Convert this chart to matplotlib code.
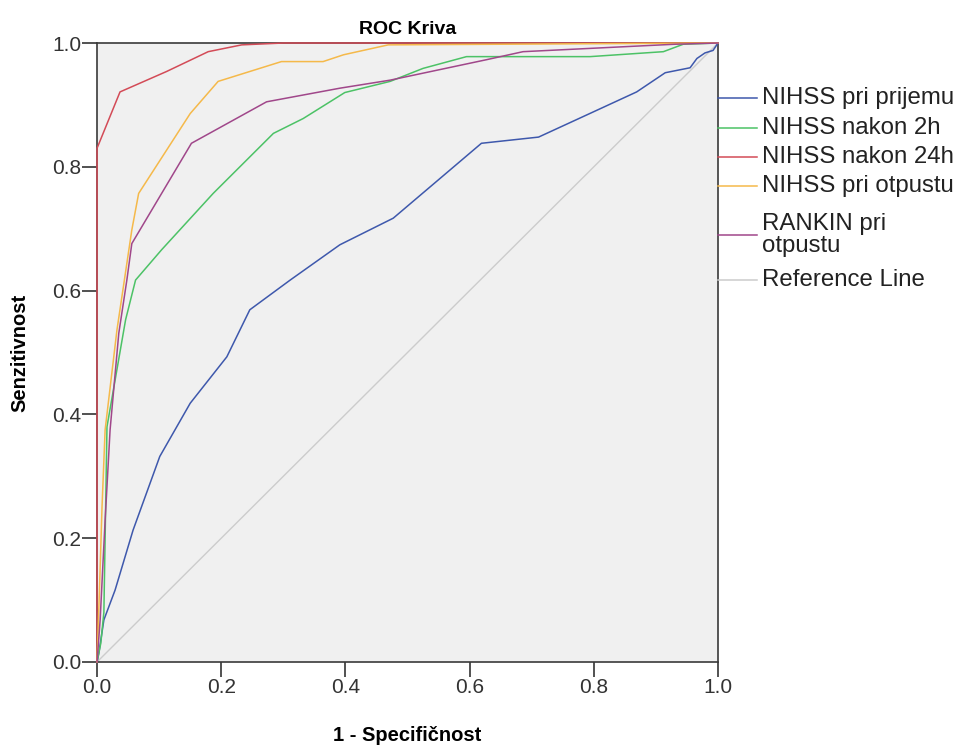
import matplotlib
matplotlib.use("Agg")
import matplotlib.pyplot as plt
from matplotlib.lines import Line2D

plt.rcParams['font.family'] = ['Liberation Sans', 'DejaVu Sans']

# ROC points (1 - specificity, sensitivity) for each predictor
fpr_prijem = [0, 0.003, 0.011, 0.029, 0.058, 0.101, 0.150, 0.209, 0.246, 0.311, 0.391,
              0.477, 0.531, 0.619, 0.711, 0.789, 0.869, 0.915, 0.955, 0.966, 0.979, 0.992, 1.0]
tpr_prijem = [0, 0.015, 0.068, 0.116, 0.213, 0.332, 0.418, 0.493, 0.569, 0.617, 0.674,
              0.717, 0.763, 0.838, 0.848, 0.884, 0.921, 0.952, 0.960, 0.975, 0.984, 0.988, 1.0]

fpr_2h = [0, 0.006, 0.011, 0.016, 0.046, 0.062, 0.104, 0.187, 0.284, 0.332, 0.399,
          0.472, 0.525, 0.595, 0.794, 0.912, 0.944, 1.0]
tpr_2h = [0, 0.03, 0.08, 0.38, 0.553, 0.617, 0.666, 0.757, 0.854, 0.878, 0.920,
          0.938, 0.959, 0.978, 0.978, 0.986, 0.998, 1.0]

fpr_24h = [0, 0, 0.037, 0.112, 0.179, 0.233, 0.30, 1.0]
tpr_24h = [0, 0.83, 0.921, 0.954, 0.986, 0.997, 1.0, 1.0]

fpr_otpust = [0, 0.004, 0.008, 0.013, 0.032, 0.056, 0.067, 0.150, 0.195, 0.297, 0.364,
              0.397, 0.469, 1.0]
tpr_otpust = [0, 0.12, 0.25, 0.375, 0.536, 0.698, 0.757, 0.886, 0.938, 0.970, 0.970,
              0.981, 0.997, 1.0]

fpr_rankin = [0, 0.005, 0.013, 0.021, 0.035, 0.048, 0.056, 0.152, 0.273, 0.391, 0.472,
              0.627, 0.686, 0.93, 1.0]
tpr_rankin = [0, 0.068, 0.229, 0.375, 0.531, 0.617, 0.676, 0.838, 0.905, 0.927, 0.940,
              0.973, 0.986, 0.998, 1.0]

ref_line = [0, 1]

labels = ['NIHSS pri prijemu', 'NIHSS nakon 2h', 'NIHSS nakon 24h',
          'NIHSS pri otpustu', 'RANKIN pri\notpustu', 'Reference Line']
colors = ['#3e58ac', '#4cc266', '#d34b57', '#f5b94a', '#a0478a', '#cccccc']
ticks = [0.0, 0.2, 0.4, 0.6, 0.8, 1.0]

series = [(fpr_prijem, tpr_prijem), (fpr_2h, tpr_2h), (fpr_24h, tpr_24h),
          (fpr_otpust, tpr_otpust), (fpr_rankin, tpr_rankin), (ref_line, ref_line)]

fig = plt.figure(figsize=(9.58, 7.48), dpi=100)
ax = fig.add_axes([0.1013, 0.115, 0.6482, 0.8275])
ax.set_facecolor('#f0f0f0')

# reference diagonal first, then the curves on top
ax.plot(ref_line, ref_line, color=colors[5], lw=1.0, zorder=2)
for (x, y), c in zip(series[:5], colors[:5]):
    ax.plot(x, y, color=c, lw=1.1, zorder=3, clip_on=False)

ax.set_xlim(0, 1)
ax.set_ylim(0, 1)
ax.set_xticks(ticks)
ax.set_yticks(ticks)
ax.set_xticklabels([f'{t:.1f}' for t in ticks])
ax.set_yticklabels([f'{t:.1f}' for t in ticks])
ax.tick_params(direction='out', length=11, width=1.2, color='#333333',
               labelsize=15, labelcolor='#333333', pad=0.5)
for s in ax.spines.values():
    s.set_color('#3a3a3a')
    s.set_linewidth(1.2)

ax.set_title('ROC Kriva', fontsize=14, fontweight='bold', y=1.0145, pad=0)
ax.set_xlabel('1 - Specifičnost', fontsize=14.5, fontweight='bold', va='center')
ax.set_ylabel('Senzitivnost', fontsize=14.5, fontweight='bold', va='center')
ax.xaxis.set_label_coords(0.5, -0.118)
ax.yaxis.set_label_coords(-0.124, 0.5)

# legend drawn to the right of the frame, lines starting at the border
W, H = 958.0, 748.0
legend_y = [98, 128, 157, 186, 235, 280]
for lab, c, py in zip(labels, colors, legend_y):
    fy = 1 - py / H
    fig.add_artist(Line2D([718 / W, 757 / W], [fy, fy], color=c, lw=1.1))
    fig.text(762 / W, fy, lab, fontsize=17.3, va='center', ha='left',
             color='#222222', linespacing=0.95)

fig.savefig('out.png', dpi=100)
